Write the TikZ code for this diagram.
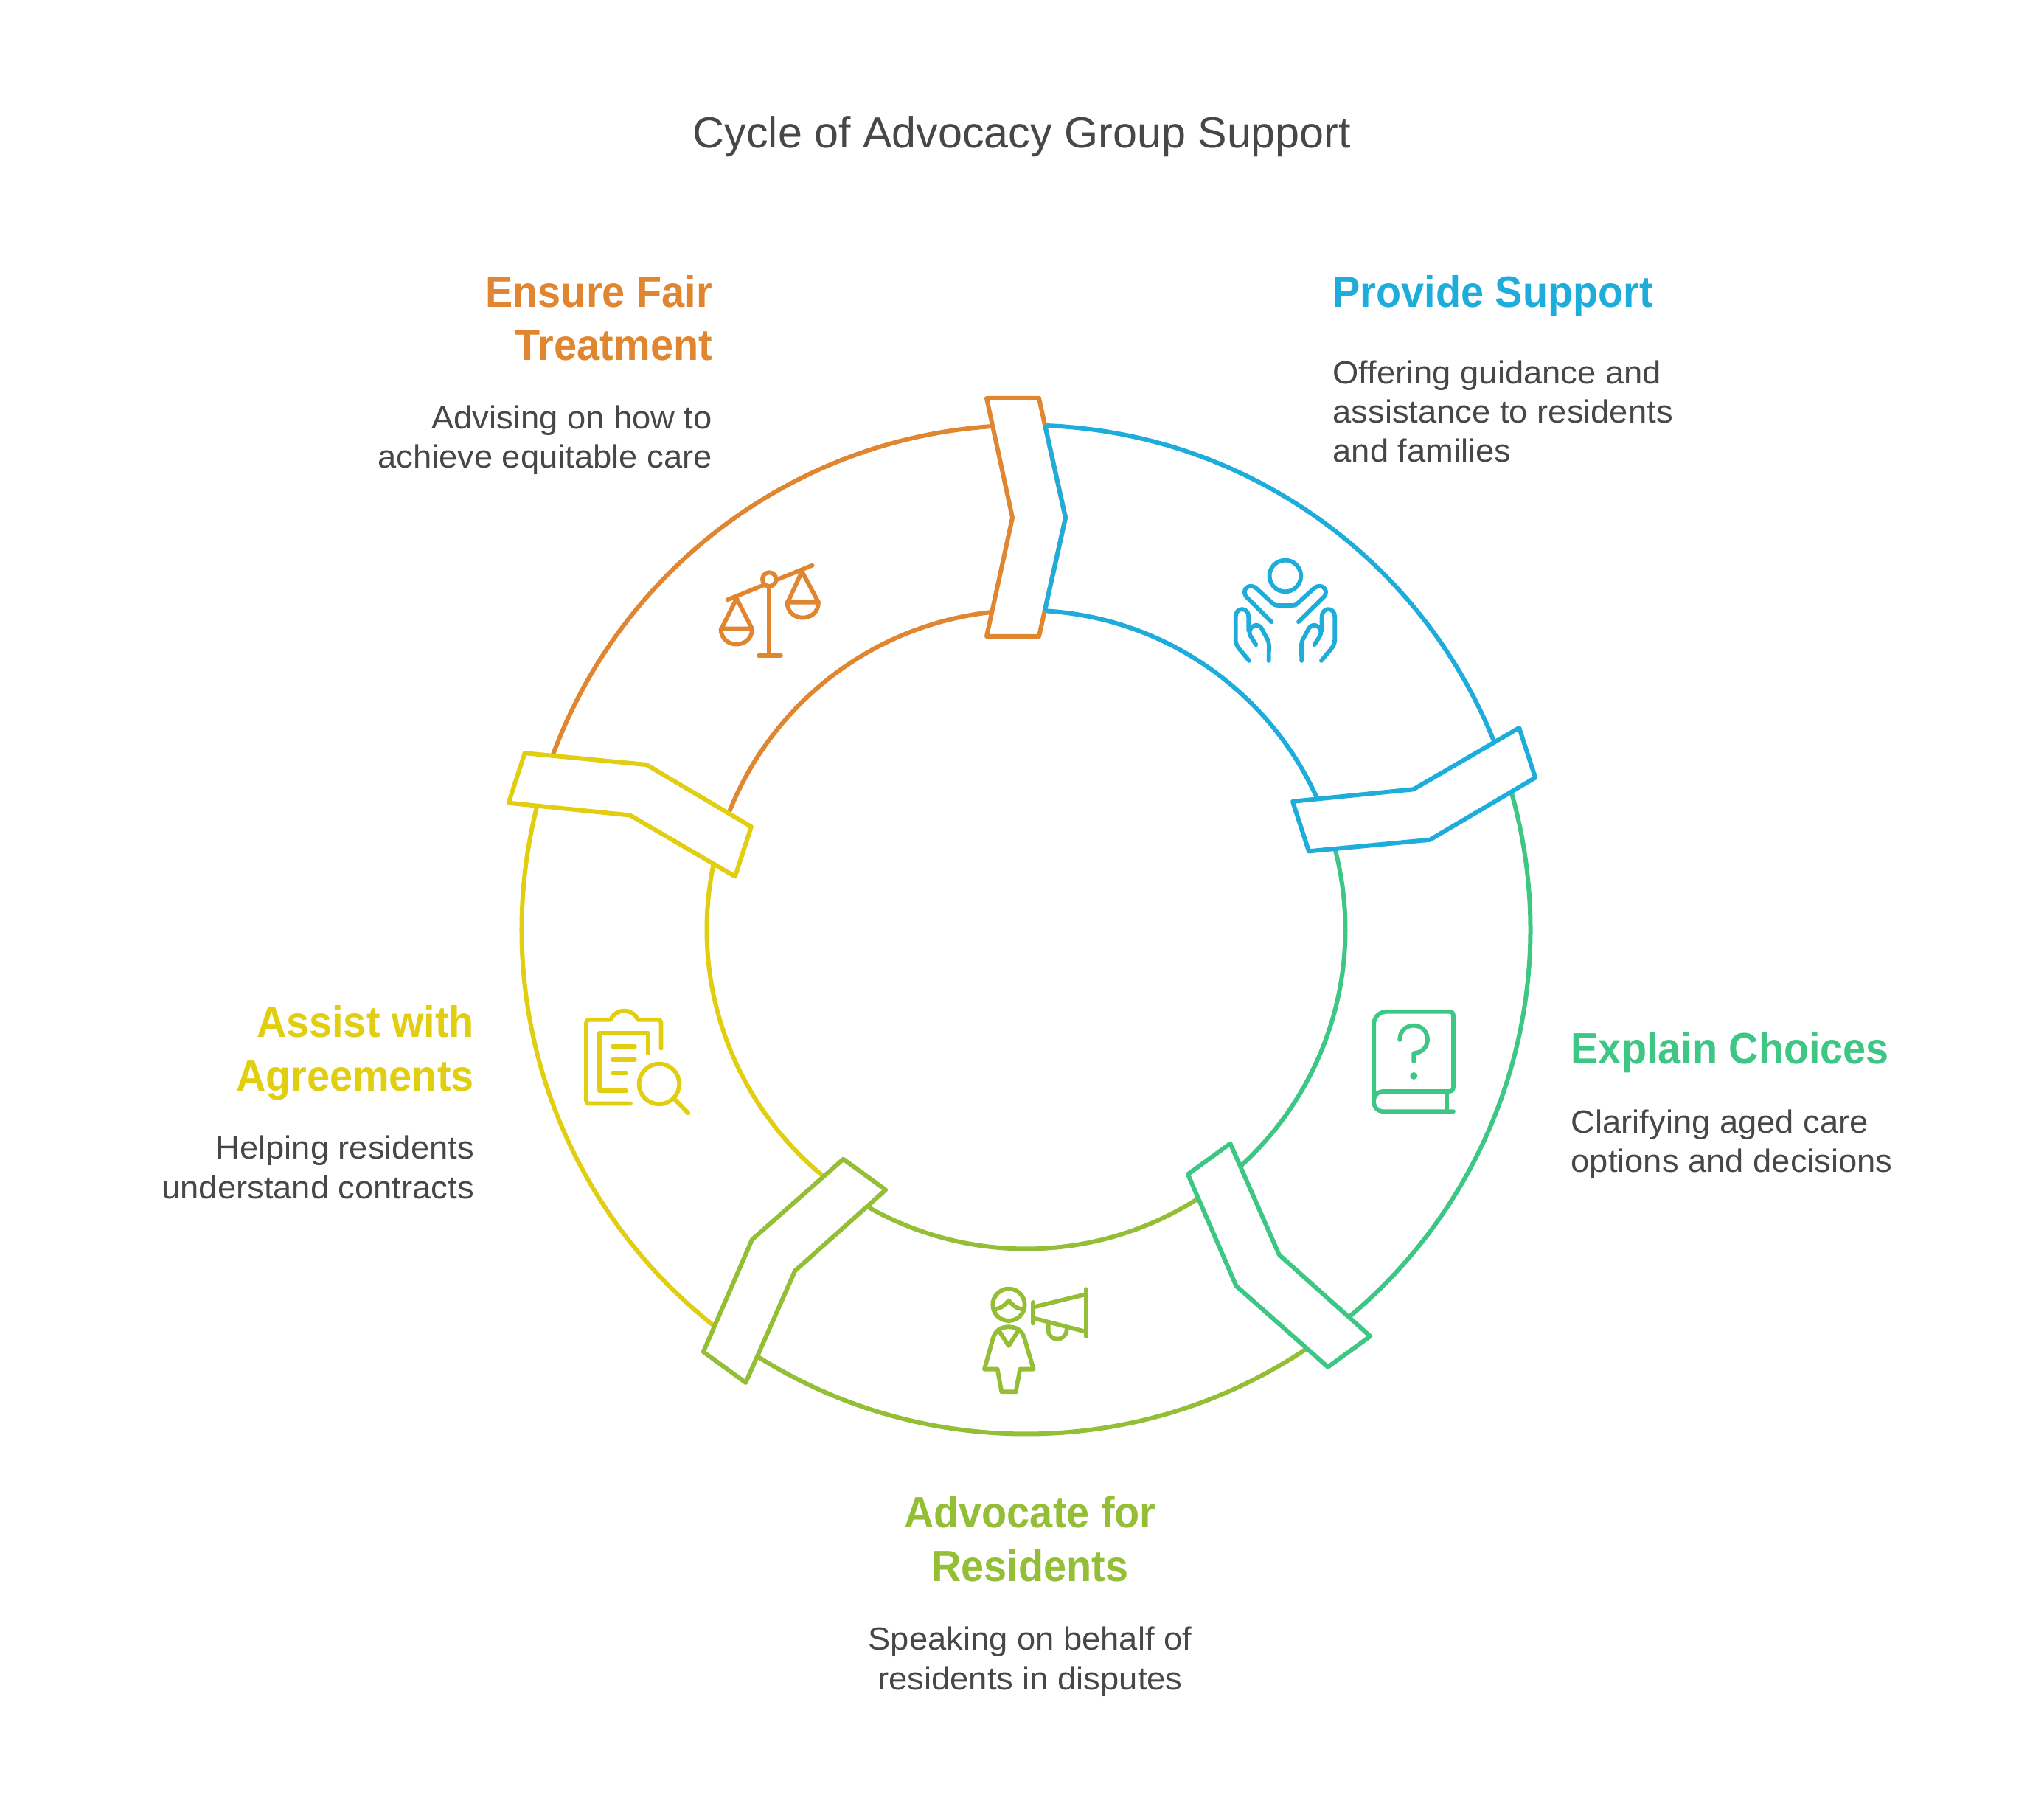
\documentclass[tikz,border=0pt]{standalone}
\usepackage{fontspec}
\setmainfont{Liberation Sans}[BoldFeatures={FakeStretch=0.94}]
\newfontfamily\bodyfont{Liberation Sans}[FakeStretch=1.04]
\definecolor{supportblue}{HTML}{1EACDB}
\definecolor{choicegreen}{HTML}{3EC684}
\definecolor{advocatelime}{HTML}{93BE36}
\definecolor{assistyellow}{HTML}{E1CE10}
\definecolor{fairorange}{HTML}{E08530}
\definecolor{textgrey}{HTML}{474747}
\tikzset{
  ringline/.style={line width=0.06cm,line join=round},
  iconline/.style={line width=0.058cm,line cap=round,line join=round},
  zoomgrid/.style={x=0.01cm/3,y=-0.01cm/3},
  titletxt/.style={font=\fontsize{16.85}{20}\selectfont,text=textgrey,inner sep=0pt},
  headtxt/.style={font=\bfseries\fontsize{16.9}{20.5}\selectfont,inner sep=0pt},
  bodytxt/.style={font=\bodyfont\fontsize{12.4}{15.2}\selectfont,text=textgrey,inner sep=0pt},
}
\begin{document}
\begin{tikzpicture}
\useasboundingbox (-13.915,12.605) rectangle (13.805,-11.875);

\node (cycletitle) at (-0.055,10.75)[titletxt]{Cycle of Advocacy Group Support};

% ring
\foreach \c/\r in {supportblue/0,choicegreen/-72,advocatelime/-144,assistyellow/-216,fairorange/-288}{
  \begin{scope}[rotate=\r]
    \draw[ringline,\c](87.9:6.84) arc[start angle=87.9,end angle=21.9,radius=6.84];
    \draw[ringline,\c](86.6:4.33) arc[start angle=86.6,end angle=24.1,radius=4.33];
  \end{scope}
}
% chevrons
\foreach \c/\r in {supportblue/-72,choicegreen/-144,advocatelime/-216,assistyellow/-288,fairorange/-360}{
  \begin{scope}[rotate=\r]
    \draw[ringline,\c,fill=white](-0.535,7.205)--(0.175,7.205)--(0.535,5.585)--(0.175,3.975)
      --(-0.535,3.975)--(-0.185,5.585)--cycle;
  \end{scope}
}
\coordinate (tipup) at (0.255,6.845);
\coordinate (tipmid) at (0.535,5.585);
\coordinate (tipdown) at (0.255,4.325);
\draw[ringline,supportblue](tipup)--(tipmid)--(tipdown);

% provide support
\node (supporthead) at (4.155,8.435)[headtxt,text=supportblue,anchor=base west]{Provide Support};
\node (supportbody) at (4.155,6.335)[bodytxt,anchor=base west,align=left]{Offering guidance and\\assistance to residents\\and families};
% explain choices
\node (choicehead) at (7.385,-1.82)[headtxt,text=choicegreen,anchor=base west]{Explain Choices};
\node (choicebody) at (7.385,-3.29)[bodytxt,anchor=base west,align=left]{Clarifying aged care\\options and decisions};
% advocate
\node (advocatehead) at (0.055,-8.835)[headtxt,text=advocatelime,anchor=base,align=center]{Advocate for\\Residents};
\node (advocatebody) at (0.055,-10.305)[bodytxt,anchor=base,align=center]{Speaking on behalf of\\residents in disputes};
% assist
\node (assisthead) at (-7.48,-2.185)[headtxt,text=assistyellow,anchor=base east,align=right]{Assist with\\Agreements};
\node (assistbody) at (-7.48,-3.645)[bodytxt,anchor=base east,align=right]{Helping residents\\understand contracts};
% fair
\node (fairhead) at (-4.25,7.715)[headtxt,text=fairorange,anchor=base east,align=right]{Ensure Fair\\Treatment};
\node (fairbody) at (-4.25,6.255)[bodytxt,anchor=base east,align=right]{Advising on how to\\achieve equitable care};

% hands icon
\begin{scope}[shift={(2.485cm,5.205cm)},zoomgrid,iconline,supportblue]
  \draw(309,123) circle[radius=64];
  \draw(253,310)--(150,207) .. controls (130,180) and (160,150) .. (190,172)--(255,232)
    .. controls (262,240) and (268,243) .. (280,243)--(338,243)
    .. controls (350,243) and (356,240) .. (362,232)--(428,172)
    .. controls (458,150) and (488,180) .. (468,207)--(363,310);
  \draw(162,468)--(122,420) .. controls (110,405) and (107,395) .. (107,380)--(107,290)
    .. controls (107,248) and (160,248) .. (160,290)--(160,345);
  \draw(190,403)--(168,368) .. controls (150,340) and (190,305) .. (212,335)--(232,372)
    .. controls (240,385) and (243,395) .. (243,410)--(242,468);
  \draw(456,468)--(496,420) .. controls (508,405) and (511,395) .. (511,380)--(511,290)
    .. controls (511,248) and (458,248) .. (458,290)--(458,345);
  \draw(428,403)--(450,368) .. controls (468,340) and (428,305) .. (406,335)--(386,372)
    .. controls (378,385) and (375,395) .. (375,410)--(376,468);
\end{scope}
% scales icon
\begin{scope}[shift={(-4.315cm,5.105cm)},zoomgrid,iconline,fairorange]
  \draw(80,190)--(425,50);
  \draw[fill=white](250,107) circle[radius=28];
  \draw(250,135)--(250,415);
  \draw(207,417)--(297,417);
  \draw(55,308)--(117,185)--(180,308);
  \draw(53,308)--(180,308) .. controls (180,392) and (53,392) .. (53,308);
  \draw(325,200)--(383,75)--(450,200);
  \draw(323,200)--(450,200) .. controls (450,284) and (323,284) .. (323,200);
\end{scope}
% clipboard icon
\begin{scope}[shift={(-6.115cm,-0.895cm)},zoomgrid,iconline,assistyellow]
  \draw(350,215)--(350,115) .. controls (350,105) and (345,98) .. (335,98)--(255,98)
    .. controls (235,50) and (165,50) .. (145,98)--(60,98)
    .. controls (50,98) and (45,105) .. (45,115)--(45,425)
    .. controls (45,435) and (50,440) .. (60,440)--(225,440);
  \draw(297,235)--(297,152)--(98,152)--(98,387)--(208,387);
  \draw(152,207)--(243,207);
  \draw(152,261)--(243,261);
  \draw(152,315)--(208,315);
  \draw(342,360) circle[radius=82];
  \draw(405,422)--(460,478);
\end{scope}
% speaker icon
\begin{scope}[shift={(-0.815cm,-4.695cm)},zoomgrid,iconline,advocatelime]
  \draw(174,118) circle[radius=65];
  \draw(122,135) .. controls (145,132) and (160,118) .. (174,100)
    .. controls (188,118) and (203,132) .. (226,135);
  \draw(75,380)--(110,255) .. controls (120,220) and (145,208) .. (174,208)
    .. controls (203,208) and (228,220) .. (238,255)--(275,380)--(220,380)--(203,472)
    --(145,472)--(128,380)--cycle;
  \draw(135,225)--(174,285)--(212,225);
  \draw(273,108)--(273,193);
  \draw(489,55)--(489,247);
  \draw(273,128)--(489,75);
  \draw(273,172)--(489,228);
  \draw(335,197)--(335,220) .. controls (335,270) and (410,270) .. (410,218);
\end{scope}
% book icon
\begin{scope}[shift={(4.485cm,-0.895cm)},zoomgrid,iconline,choicegreen]
  \draw(70,405)--(70,115) .. controls (70,85) and (95,65) .. (125,65)--(375,65)
    .. controls (387,65) and (393,70) .. (393,82)--(393,372)
    .. controls (393,385) and (387,390) .. (375,390)--(110,390)
    .. controls (55,390) and (55,472) .. (110,472)--(393,472);
  \draw(365,390)--(365,472);
  \draw(175,180) .. controls (175,145) and (200,122) .. (232,122)
    .. controls (265,122) and (288,148) .. (288,178)
    .. controls (288,210) and (265,233) .. (232,235)--(232,268);
  \fill(232,327) circle[radius=15];
\end{scope}
\end{tikzpicture}
\end{document}
